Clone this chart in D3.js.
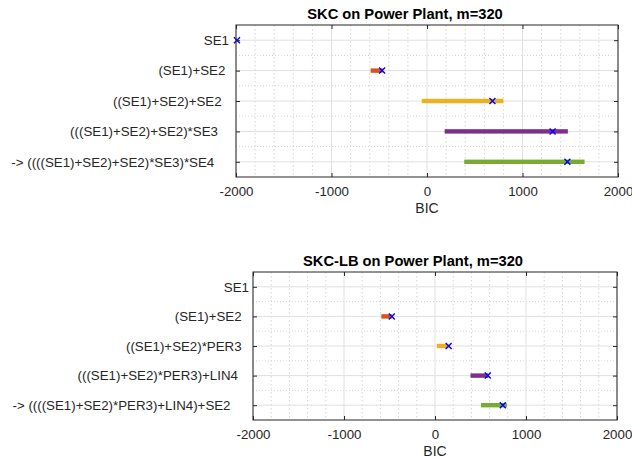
<!DOCTYPE html>
<html><head><meta charset="utf-8">
<script src="https://cdn.jsdelivr.net/npm/d3@7/dist/d3.min.js"></script>
<style>
body{margin:0;background:#fff;}
svg{font-family:"Liberation Sans",Arial,sans-serif;}
text{white-space:pre;}
</style></head><body>
<svg id="c" width="632" height="458"></svg>
<script>
// ---- data ----
const colors = ["#0072BD","#D95319","#EDB120","#7E2F8E","#77AC30"];
const xTicks = [-2000,-1000,0,1000,2000];
const xTickLabels = ["-2000","-1000","0","1000","2000"];

const topTitle = "SKC on Power Plant, m=320";
const topLabels = ["SE1","(SE1)+SE2 ","((SE1)+SE2)+SE2  ","(((SE1)+SE2)+SE2)*SE3   ","-> ((((SE1)+SE2)+SE2)*SE3)*SE4    "];
const topLow  = [null, -590, -55, 185, 390];
const topHigh = [null, -465, 800, 1475, 1650];
const topBest = [-1990, -470, 685, 1315, 1470];

const botTitle = "SKC-LB on Power Plant, m=320";
const botLabels = ["SE1","(SE1)+SE2  ","((SE1)+SE2)*PER3  ","(((SE1)+SE2)*PER3)+LIN4   ","-> ((((SE1)+SE2)*PER3)+LIN4)+SE2     "];
const botLow  = [null, -590, 20, 390, 505];
const botHigh = [null, -475, 150, 585, 790];
const botBest = [null, -475, 150, 580, 745];

const svg = d3.select("#c");

function panel(box, title, labels, low, high, best, labelPad){
  const x = d3.scaleLinear().domain([-2000,2000]).range([box.l, box.r]);
  const y = d3.scaleLinear().domain([0.5,5.5]).range([box.t, box.b]);
  const g = svg.append("g");
  // minor grid
  const minorX = d3.range(-2000,2001,200).filter(v=>!xTicks.includes(v));
  g.selectAll(".mx").data(minorX).join("line")
    .attr("x1",d=>x(d)).attr("x2",d=>x(d)).attr("y1",box.t).attr("y2",box.b)
    .attr("stroke","#d4d4d4").attr("stroke-width",1).attr("stroke-dasharray","1.5,2.5");
  const minorY = [1.5,2.5,3.5,4.5];
  g.selectAll(".my").data(minorY).join("line")
    .attr("x1",box.l).attr("x2",box.r).attr("y1",d=>y(d)).attr("y2",d=>y(d))
    .attr("stroke","#d4d4d4").attr("stroke-width",1).attr("stroke-dasharray","1,2");
  // major grid
  g.selectAll(".gx").data(xTicks).join("line")
    .attr("x1",d=>x(d)).attr("x2",d=>x(d)).attr("y1",box.t).attr("y2",box.b)
    .attr("stroke","#e0e0e0").attr("stroke-width",1);
  g.selectAll(".gy").data(d3.range(1,6)).join("line")
    .attr("x1",box.l).attr("x2",box.r).attr("y1",d=>y(d)).attr("y2",d=>y(d))
    .attr("stroke","#e0e0e0").attr("stroke-width",1);
  // bars
  const rows = labels.map((l,i)=>({i, lo:low[i], hi:high[i], b:best[i]}));
  g.selectAll(".bar").data(rows.filter(r=>r.lo!=null)).join("rect")
    .attr("x",d=>x(d.lo)).attr("width",d=>x(d.hi)-x(d.lo))
    .attr("y",d=>y(d.i+1)-2.2).attr("height",4.4)
    .attr("fill",d=>colors[d.i]);
  // markers
  const mk = rows.filter(r=>r.b!=null);
  const s=3;
  g.selectAll(".m1").data(mk).join("path")
    .attr("d",d=>{const cx=x(d.b), cy=y(d.i+1); return `M${cx-s},${cy-s}L${cx+s},${cy+s}M${cx-s},${cy+s}L${cx+s},${cy-s}`;})
    .attr("stroke","#0000ff").attr("stroke-width",1.4).attr("fill","none");
  // axes box
  const ax = svg.append("g");
  ax.append("rect").attr("x",box.l).attr("y",box.t).attr("width",box.r-box.l).attr("height",box.b-box.t)
    .attr("fill","none").attr("stroke","#262626").attr("stroke-width",1);
  const xb = ax.append("g").attr("transform",`translate(0,${box.b})`)
    .call(d3.axisBottom(x).tickValues(xTicks).tickSizeInner(-4).tickSizeOuter(0).tickPadding(10).tickFormat((d,i)=>xTickLabels[i]));
  const xt = ax.append("g").attr("transform",`translate(0,${box.t})`)
    .call(d3.axisTop(x).tickValues(xTicks).tickSizeInner(-4).tickSizeOuter(0).tickFormat(""));
  const yl = ax.append("g").attr("transform",`translate(${box.l},0)`)
    .call(d3.axisLeft(y).tickValues(d3.range(1,6)).tickSizeInner(-4).tickSizeOuter(0).tickPadding(labelPad).tickFormat((d)=>labels[d-1]));
  const yr = ax.append("g").attr("transform",`translate(${box.r},0)`)
    .call(d3.axisRight(y).tickValues(d3.range(1,6)).tickSizeInner(-4).tickSizeOuter(0).tickFormat(""));
  [xb,xt,yl,yr].forEach(a=>{
    a.select(".domain").remove();
    a.selectAll("line").attr("stroke","#262626");
    a.selectAll("text").attr("fill","#262626").attr("font-size","13.3px").attr("font-family","Liberation Sans, Arial, sans-serif");
  });
  // title
  svg.append("text").attr("x",(box.l+box.r)/2-22).attr("y",box.t-6)
    .attr("text-anchor","middle").attr("font-size","14.7px").attr("font-weight","bold").attr("fill","#000").text(title);
  svg.append("text").attr("x",(box.l+box.r)/2).attr("y",box.b+36)
    .attr("text-anchor","middle").attr("font-size","14px").attr("fill","#262626").text("BIC");
}

panel({l:236,r:618,t:25,b:177}, topTitle, topLabels, topLow, topHigh, topBest, 7);
panel({l:253,r:617,t:272,b:420}, botTitle, botLabels, botLow, botHigh, botBest, 4);
</script></body></html>
